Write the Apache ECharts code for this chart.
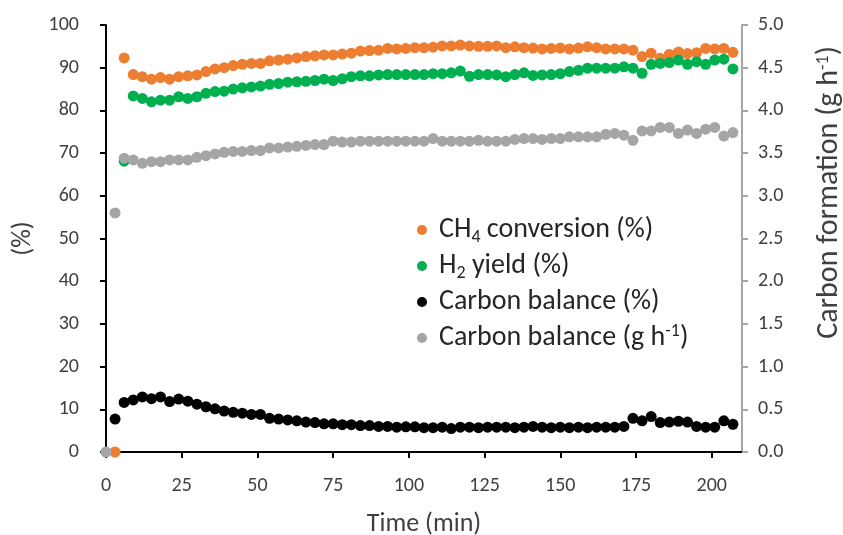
<!DOCTYPE html>
<html><head><meta charset="utf-8">
<script src="https://cdn.jsdelivr.net/npm/echarts@6/dist/echarts.min.js"></script>
<style>html,body{margin:0;padding:0;background:#fff}#c{width:843px;height:535px}</style>
</head><body><div id="c"></div>
<script>
const timeMin = [0,3,6,9,12,15,18,21,24,27,30,33,36,39,42,45,48,51,54,57,60,63,66,69,72,75,78,81,84,87,90,93,96,99,102,105,108,111,114,117,120,123,126,129,132,135,138,141,144,147,150,153,156,159,162,165,168,171,174,177,180,183,186,189,192,195,198,201,204,207];
const ch4Conversion = [null,0,92.3,88.4,87.9,87.3,87.7,87.3,87.9,88.1,88.3,89.1,89.7,90.0,90.5,90.8,91.0,91.0,91.6,91.8,92.0,92.3,92.6,92.8,93.0,93.0,93.2,93.4,93.9,94.0,94.1,94.5,94.4,94.5,94.7,94.7,94.8,95.1,95.1,95.3,95.1,95.0,95.0,95.1,94.7,94.9,94.7,94.6,94.4,94.5,94.6,94.4,94.6,94.9,94.7,94.4,94.4,94.4,94.1,92.6,93.4,92.2,93.1,93.7,93.3,93.5,94.5,94.4,94.5,93.6];
const h2Yield = [null,null,68.1,83.4,82.8,82.0,82.4,82.4,83.2,82.8,83.2,84.0,84.4,84.5,85.0,85.3,85.5,85.7,86.1,86.3,86.6,86.7,86.8,87.0,87.3,87.0,87.4,87.9,88.1,88.1,88.3,88.4,88.4,88.4,88.4,88.4,88.6,88.6,88.8,89.2,88.0,88.4,88.4,88.3,87.9,88.4,88.8,88.2,88.3,88.4,88.6,89.1,89.4,89.9,89.9,89.9,89.9,90.2,89.9,88.7,90.8,91.0,91.2,91.8,90.8,91.4,90.8,91.8,92.0,89.7];
const carbonBalancePct = [null,7.7,11.6,12.2,12.9,12.5,12.9,11.8,12.4,11.9,11.2,10.6,10.1,9.6,9.3,9.1,8.8,8.8,7.9,7.7,7.5,7.3,7.0,6.9,6.6,6.6,6.4,6.4,6.2,6.2,6.0,6.0,5.8,5.9,5.9,5.7,5.7,5.8,5.5,5.8,5.8,5.7,5.8,5.8,5.8,5.7,5.8,6.0,5.8,5.7,5.8,5.7,5.8,5.7,5.8,5.8,5.8,6.0,7.9,7.3,8.3,6.9,7.0,7.2,7.0,6.0,5.8,5.8,7.3,6.5];
const carbonBalanceGh = [0,2.8,3.44,3.42,3.38,3.40,3.40,3.42,3.42,3.42,3.45,3.47,3.49,3.51,3.52,3.52,3.53,3.53,3.56,3.56,3.57,3.58,3.59,3.60,3.60,3.64,3.63,3.63,3.64,3.64,3.64,3.64,3.64,3.64,3.64,3.64,3.67,3.64,3.64,3.64,3.64,3.65,3.64,3.64,3.64,3.66,3.67,3.67,3.66,3.67,3.67,3.69,3.69,3.69,3.69,3.72,3.73,3.71,3.65,3.76,3.76,3.80,3.80,3.73,3.77,3.73,3.78,3.80,3.70,3.74];
const xTicks = [0,25,50,75,100,125,150,175,200];
const seriesNames = ['CH4 conversion (%)','H2 yield (%)','Carbon balance (%)','Carbon balance (g h-1)'];
const legendRich = {
  'CH4 conversion (%)': '{a|CH}{sub|4}{a| conversion (%)}',
  'H2 yield (%)': '{a|H}{sub|2}{a| yield (%)}',
  'Carbon balance (%)': '{a|Carbon balance (%)}',
  'Carbon balance (g h-1)': '{a|Carbon balance (g h}{sup|-1}{a|)}'
};
const FONT = 'Carlito, Calibri, Lato, sans-serif';
const TXT = '#404040';
function pairs(vals){ const out=[]; vals.forEach((v,i)=>{ if(v!==null) out.push([timeMin[i], v]); }); return out; }
const chart = echarts.init(document.getElementById('c'), null, {renderer:'canvas'});
const sym = {type:'scatter', symbol:'circle', symbolSize:11};
chart.setOption({
  animation:false,
  backgroundColor:'#fff',
  grid:{left:106, right:101, top:25, bottom:83, containLabel:false, outerBoundsMode:'none'},
  xAxis:{
    type:'value', min:0, max:210,
    name:'Time (min)', nameLocation:'middle', nameGap:59,
    nameTextStyle:{fontFamily:FONT, fontSize:26, color:TXT},
    axisLine:{onZero:false, lineStyle:{color:'#000', width:2}},
    axisTick:{show:true, inside:false, length:6, lineStyle:{color:'#000', width:2}, customValues:xTicks},
    axisLabel:{fontFamily:FONT, fontSize:20, color:TXT, margin:24, customValues:xTicks},
    splitLine:{show:false}
  },
  yAxis:[{
    type:'value', min:0, max:100, interval:10, position:'left',
    name:'(%)', nameLocation:'middle', nameGap:70, nameRotate:90,
    nameTextStyle:{fontFamily:FONT, fontSize:26, color:TXT},
    axisLine:{show:true, lineStyle:{color:'#000', width:2}},
    axisTick:{show:true, length:6, lineStyle:{color:'#000', width:2}},
    axisLabel:{fontFamily:FONT, fontSize:20, color:TXT, margin:27},
    splitLine:{show:false}
  },{
    type:'value', min:0, max:5, interval:0.5, position:'right',
    name:'{a|Carbon formation (g h}{sup|-1}{a|)}', nameLocation:'middle', nameGap:72, nameRotate:90,
    nameTextStyle:{fontFamily:FONT, fontSize:30, color:TXT, padding:[0,0,0,92],
      rich:{a:{fontFamily:FONT, fontSize:30, color:TXT}, sup:{fontFamily:FONT, fontSize:18, color:TXT, verticalAlign:'top'}}},
    axisLine:{show:true, lineStyle:{color:'#a6a6a6', width:2}},
    axisTick:{show:true, length:6, lineStyle:{color:'#a6a6a6', width:2}},
    axisLabel:{fontFamily:FONT, fontSize:20, color:TXT, margin:16, formatter:v=>v.toFixed(1)},
    splitLine:{show:false}
  }],
  legend:{
    orient:'vertical', left:417, top:214, padding:0, icon:'circle', itemWidth:24, itemHeight:10, itemGap:4,
    symbolKeepAspect:true,
    data:seriesNames,
    formatter:name=>legendRich[name],
    textStyle:{fontFamily:FONT, fontSize:28, color:'#262626', lineHeight:32,
      rich:{
        a:{fontFamily:FONT, fontSize:28, color:'#262626', lineHeight:32},
        sub:{fontFamily:FONT, fontSize:18, color:'#262626', verticalAlign:'bottom', lineHeight:18},
        sup:{fontFamily:FONT, fontSize:18, color:'#262626', verticalAlign:'top', lineHeight:18}
      }}
  },
  series:[
    Object.assign({name:seriesNames[0], yAxisIndex:0, itemStyle:{color:'#ED7D31', opacity:1}, data:pairs(ch4Conversion)}, sym),
    Object.assign({name:seriesNames[1], yAxisIndex:0, itemStyle:{color:'#00B050', opacity:1}, data:pairs(h2Yield)}, sym),
    Object.assign({name:seriesNames[2], yAxisIndex:0, itemStyle:{color:'#000000', opacity:1}, data:pairs(carbonBalancePct)}, sym),
    Object.assign({name:seriesNames[3], yAxisIndex:1, itemStyle:{color:'#A5A5A5', opacity:1}, data:pairs(carbonBalanceGh)}, sym)
  ]
});
</script></body></html>
